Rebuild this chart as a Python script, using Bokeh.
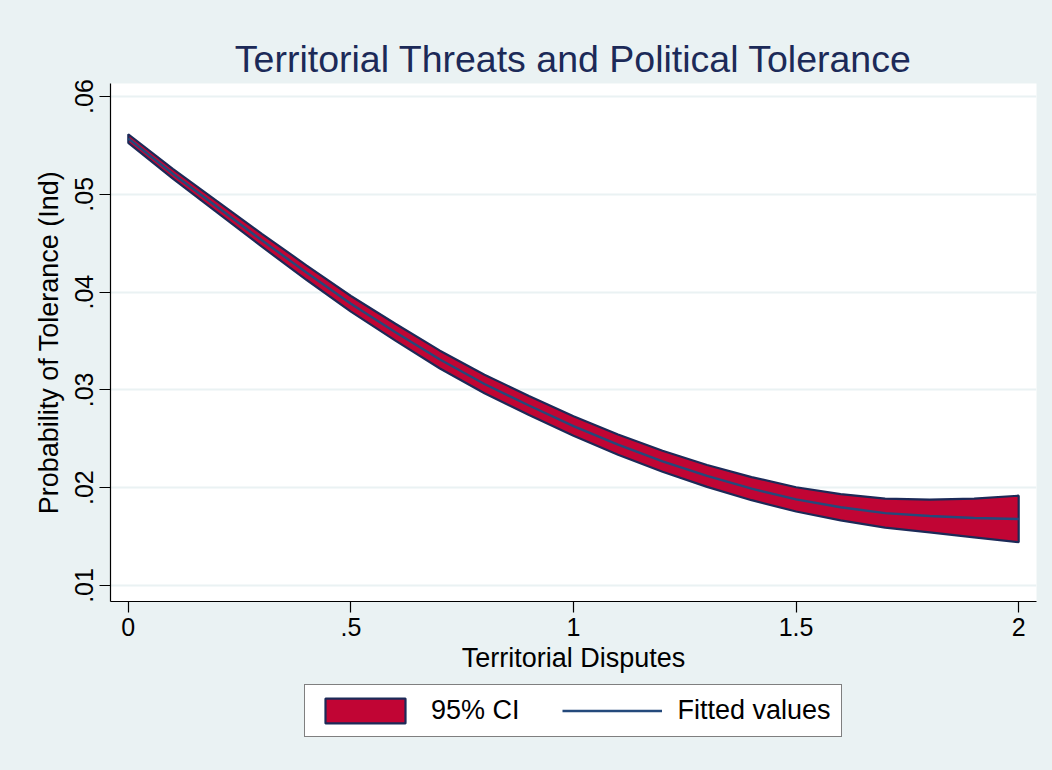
from bokeh.plotting import figure
from bokeh.layouts import column
from bokeh.models import Range1d, FixedTicker, Legend, LegendItem
from bokeh.embed import file_html
from bokeh.resources import INLINE

# Predicted probability of tolerance over number of territorial disputes
disputes = [0.0, 0.1, 0.2, 0.3, 0.4, 0.5, 0.6, 0.7, 0.8, 0.9, 1.0,
            1.1, 1.2, 1.3, 1.4, 1.5, 1.6, 1.7, 1.8, 1.9, 2.0]
fitted = [0.0557, 0.0521, 0.0487, 0.0453, 0.0420, 0.0388, 0.0359, 0.0331,
          0.0306, 0.0284, 0.0263, 0.0244, 0.0227, 0.0212, 0.0199, 0.0188,
          0.0180, 0.0174, 0.0171, 0.0169, 0.0168]
ci_upper = [0.05614, 0.0526, 0.04928, 0.04596, 0.04274, 0.0396, 0.03676,
            0.03401, 0.03155, 0.02938, 0.0273, 0.02543, 0.02377, 0.02232,
            0.02108, 0.02004, 0.01934, 0.01888, 0.01878, 0.01888, 0.01918]
ci_lower = [0.05526, 0.0516, 0.04812, 0.04464, 0.04126, 0.038, 0.03504,
            0.03219, 0.02965, 0.02742, 0.0253, 0.02337, 0.02163, 0.02008,
            0.01872, 0.01756, 0.01666, 0.01592, 0.01542, 0.01492, 0.01442]

x_ticks = [0, 0.5, 1, 1.5, 2]
x_tick_labels = {0: "0", 0.5: ".5", 1: "1", 1.5: "1.5", 2: "2"}
y_ticks = [0.01, 0.02, 0.03, 0.04, 0.05, 0.06]
y_tick_labels = {0.01: ".01", 0.02: ".02", 0.03: ".03", 0.04: ".04",
                 0.05: ".05", 0.06: ".06"}

BG = "#EAF2F3"
FONT = "Liberation Sans"
RED = "#C10534"
OUTLINE = "#1C2A58"
NAVY = "#24497B"

band_x = disputes + disputes[::-1]
band_y = ci_upper + ci_lower[::-1]


def draw_series(fig):
    """CI band as an outlined polygon, fitted curve on top."""
    band = fig.patch(band_x, band_y, fill_color=RED, line_color=OUTLINE,
                     line_width=2.2)
    fit = fig.line(disputes, fitted, line_color=NAVY, line_width=2.4)
    return band, fit


# ---- main chart -----------------------------------------------------------
p = figure(frame_width=926, frame_height=518, output_backend="svg",
           toolbar_location=None,
           x_range=Range1d(-0.04, 2.04), y_range=Range1d(0.00836, 0.06133),
           min_border_left=110, min_border_right=16, min_border_top=83,
           min_border_bottom=79)
p.border_fill_color = BG
p.background_fill_color = "white"
p.outline_line_color = None

p.title.text = "Territorial Threats and Political Tolerance"
p.title.align = "center"
p.title.text_font = FONT
p.title.text_font_size = "37.5px"
p.title.text_font_style = "normal"
p.title.text_color = "#1C2A58"
p.title.standoff = 8

draw_series(p)

for ax in (p.xaxis[0], p.yaxis[0]):
    ax.axis_line_color = "black"
    ax.axis_line_width = 1.2
    ax.major_tick_line_color = "black"
    ax.major_tick_line_width = 1.2
    ax.major_tick_out = 11
    ax.major_tick_in = 0
    ax.minor_tick_line_color = None
    ax.major_label_text_font = FONT
    ax.major_label_text_font_size = "25px"
    ax.major_label_text_color = "black"
    ax.axis_label_text_font = FONT
    ax.axis_label_text_font_size = "27px"
    ax.axis_label_text_font_style = "normal"
    ax.axis_label_text_color = "black"

p.xaxis.ticker = FixedTicker(ticks=x_ticks)
p.xaxis.major_label_overrides = x_tick_labels
p.xaxis.axis_label = "Territorial Disputes"
p.xaxis.major_label_standoff = 5
p.xaxis.axis_label_standoff = 4

p.yaxis.ticker = FixedTicker(ticks=y_ticks)
p.yaxis.major_label_overrides = y_tick_labels
p.yaxis.major_label_orientation = "vertical"
p.yaxis.axis_label = "Probability of Tolerance (Ind)"
p.yaxis.major_label_standoff = 6
p.yaxis.axis_label_standoff = 9

p.xgrid.grid_line_color = None
p.ygrid.ticker = FixedTicker(ticks=y_ticks)
p.ygrid.grid_line_color = BG
p.ygrid.grid_line_width = 2

# ---- legend strip under the chart -------------------------------------------
# The strip re-draws both series outside its visible ranges so the legend
# can sample their styles; only the legend box shows. The column aligns the
# strip's frame with the chart's frame, so the legend position is measured
# from the chart's left axis.
leg = figure(width=1052, height=90, output_backend="svg", toolbar_location=None,
             x_range=Range1d(10, 11), y_range=Range1d(10, 11),
             x_axis_type=None, y_axis_type=None,
             min_border_left=0, min_border_right=0, min_border_top=0,
             min_border_bottom=0)
leg.border_fill_color = BG
leg.background_fill_color = None
leg.outline_line_color = None
leg.xgrid.visible = False
leg.ygrid.visible = False
leg_band, leg_fit = draw_series(leg)

legend = Legend(items=[LegendItem(label="95% CI", renderers=[leg_band]),
                       LegendItem(label="Fitted values", renderers=[leg_fit])],
                orientation="horizontal", location=(194, 33),
                glyph_width=100, glyph_height=31, label_standoff=16,
                spacing=42, padding=10, margin=0,
                label_text_font=FONT, label_text_font_size="27px",
                label_text_color="black",
                border_line_color="black", border_line_width=1.2,
                background_fill_color="white", background_fill_alpha=1.0)
leg.add_layout(legend, "center")

layout = column(p, leg, spacing=0, styles={"background-color": BG})
open("out.html", "w").write(file_html(layout, INLINE))
